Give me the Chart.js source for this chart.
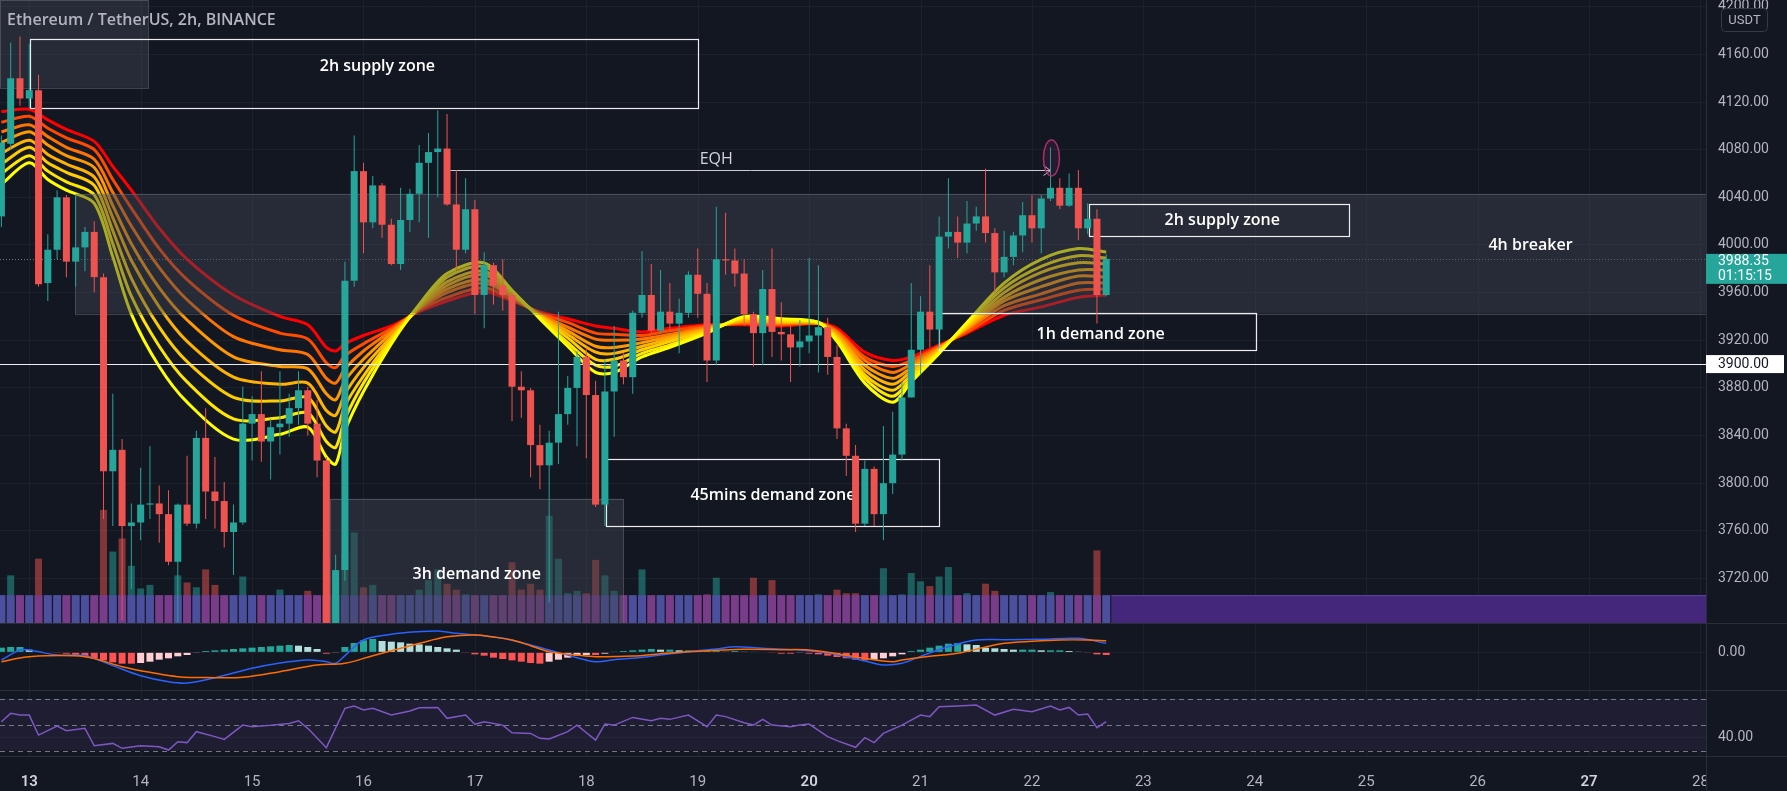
<!DOCTYPE html>
<html>
<head>
<meta charset="utf-8">
<title>ETHUSDT 2h</title>
<script src="https://cdn.jsdelivr.net/npm/chart.js"></script>
<style>
  body { margin: 0; background: #131722; overflow: hidden; }
  canvas { position: absolute; left: 0; display: block; }
  #mainChart { top: 0; }
  #macdChart { top: 623px; }
  #rsiChart { top: 690px; }
</style>
</head>
<body>
<canvas id="mainChart" width="1787" height="623"></canvas>
<canvas id="macdChart" width="1787" height="67"></canvas>
<canvas id="rsiChart" width="1787" height="101"></canvas>
<script>
// 2h candles, index 0 = 12th 18:00, index 3 = 13th 00:00
const candleOpen = [4024,4085,4140,4123,4130,3968,3996,4040,3986,3998, 4011,3973,3810,3828,3764,3767,3782,3783,3774,3734,
  3782,3766,3838,3793,3785,3759,3767,3850,3858,3835, 3847,3850,3863,3878,3850,3819,3678,3727,3970,4062,
  4019,4050,4017,3984,4021,4043,4069,4078,4081,4034, 3996,4030,3958,3983,3966,3958,3881,3878,3832,3815,
  3834,3858,3880,3906,3874,3782,3877,3903,3889,3943, 3958,3928,3944,3934,3943,3975,3959,3903,3988,3987,
  3976,3942,3926,3963,3927,3925,3914,3919,3924,3931, 3906,3846,3823,3766,3812,3774,3800,3824,3872,3912,
  3944,3929,4007,4011,4002,4018,4024,4010,3977,3990, 4008,4025,4014,4039,4048,4033,4048,4014,4022,3958];
const candleHigh = [4092,4170,4175,4169,4143,4009,4046,4042,4042,4015, 4020,3976,3875,3837,3783,3813,3831,3798,3794,3783,
  3823,3844,3863,3822,3801,3782,3881,3873,3894,3854, 3894,3875,3894,3881,3870,3822,3740,3986,4092,4069,
  4058,4052,4022,4048,4047,4084,4094,4113,4110,4063, 4056,4038,3994,3985,3988,3960,3894,3880,3849,3844,
  3944,3890,3911,3914,3886,3904,3932,3909,3945,3995, 3984,3979,3968,3955,3978,3997,3968,4032,4027,3997,
  3988,3944,3979,3997,3952,3932,3937,3989,3983,3939, 3916,3850,3832,3819,3814,3848,3860,3885,3968,3957,
  3983,4024,4056,4024,4037,4032,4064,4014,4012,4011, 4036,4042,4042,4082,4056,4060,4063,4035,4030,3992];
const candleLow = [4015,4080,4117,4115,3965,3953,3988,3973,3965,3978, 3960,3770,3764,3685,3711,3752,3770,3750,3731,3683,
  3764,3762,3770,3762,3746,3723,3765,3819,3818,3803, 3824,3839,3849,3840,3805,3650,3643,3718,3965,3993,
  4014,4006,3983,3979,4011,4019,4006,4040,4033,3979, 3993,3942,3930,3950,3945,3852,3855,3805,3795,3700,
  3816,3849,3831,3821,3780,3764,3839,3883,3875,3939, 3926,3926,3927,3909,3939,3939,3885,3899,3975,3965,
  3932,3898,3899,3906,3903,3885,3898,3909,3893,3891, 3837,3806,3759,3764,3764,3752,3791,3819,3872,3891,
  3914,3913,3997,3989,3993,4012,4002,3960,3973,3983, 3994,4002,3993,4037,4030,4032,4004,4009,3934,3957];
const candleClose = [4086,4140,4123,4130,3967,3996,4040,3986,3998,4011, 3973,3810,3828,3764,3767,3782,3783,3774,3734,3782,
  3766,3838,3793,3785,3759,3767,3850,3858,3835,3847, 3850,3863,3878,3850,3819,3678,3727,3970,4062,4019,
  4050,4017,3984,4021,4043,4069,4078,4081,4034,3996, 4030,3958,3983,3966,3958,3881,3878,3832,3815,3834,
  3858,3880,3906,3874,3782,3877,3903,3889,3943,3958, 3928,3944,3934,3943,3975,3959,3903,3988,3987,3976,
  3942,3926,3963,3927,3925,3914,3919,3924,3931,3906, 3846,3823,3766,3812,3774,3800,3824,3872,3912,3944,
  3929,4007,4011,4002,4018,4024,4010,3977,3990,4008, 4025,4014,4039,4048,4033,4048,4014,4022,3958,3988.35];
const volume = [20,40,20,18,54,18,16,22,20,14, 18,95,60,71,48,29,32,20,22,40, 34,30,45,32,20,22,39,18,22,16,
  28,16,18,27,20,54,44,58,76,30, 32,16,16,20,18,28,36,45,33,28, 24,20,18,20,20,51,28,33,28,90,
  54,25,27,25,53,40,27,20,20,45, 18,16,20,18,20,22,24,38,18,20, 22,38,20,36,18,20,18,22,24,20,
  28,25,25,20,18,46,22,24,42,35, 31,39,47,20,25,18,33,27,18,16, 20,18,22,26,18,16,20,18,61,9];

// EMA ribbon at these candle indexes (fast -> slow)
const ribbonK = [0,3,5,7,10,12,14,17,20,25,30,33,35,36,37,39,42,45,48,52,55,58,61,64,66,69,72,76,80,84,88,90,93,96,98,101,104,108,112,116,119];
const ema20 = [4051,4069,4055,4046,4035,3990,3942,3898,3868,3837,3841,3847,3822,3816,3844,3877,3917,3950,3976,3985,3962,3938,3915,3893,3893,3906,3914,3926,3940,3938,3935,3919,3884,3868,3885,3909,3935,3968,3988,3997,3994];
const ema25 = [4060,4075,4062,4053,4042,4001,3957,3915,3885,3854,3855,3859,3835,3830,3854,3884,3919,3949,3973,3982,3961,3939,3918,3899,3898,3909,3916,3927,3939,3937,3935,3921,3888,3873,3888,3910,3934,3964,3982,3991,3989];
const ema30 = [4068,4082,4069,4061,4050,4012,3972,3931,3902,3872,3869,3872,3848,3843,3865,3890,3921,3948,3969,3978,3959,3940,3922,3904,3904,3912,3919,3928,3938,3936,3935,3922,3891,3878,3891,3911,3932,3960,3977,3985,3984];
const ema35 = [4077,4088,4076,4068,4057,4023,3987,3948,3919,3889,3883,3884,3861,3857,3875,3897,3923,3947,3966,3975,3958,3941,3925,3910,3909,3915,3921,3929,3937,3935,3935,3924,3895,3883,3894,3912,3931,3956,3971,3979,3979];
const ema40 = [4086,4095,4084,4075,4065,4033,4001,3964,3937,3906,3898,3896,3875,3870,3886,3904,3926,3947,3963,3971,3957,3941,3928,3915,3914,3918,3923,3930,3936,3935,3934,3925,3899,3888,3897,3913,3930,3953,3965,3974,3973];
const ema45 = [4095,4101,4091,4082,4072,4044,4016,3981,3954,3923,3912,3908,3888,3884,3896,3911,3928,3946,3960,3968,3956,3942,3931,3921,3920,3921,3925,3931,3935,3934,3934,3927,3903,3893,3900,3914,3929,3949,3959,3968,3968];
const ema50 = [4103,4108,4098,4090,4080,4055,4031,3997,3971,3941,3926,3921,3901,3897,3907,3917,3930,3945,3956,3964,3954,3943,3935,3926,3925,3924,3928,3932,3934,3933,3934,3928,3906,3898,3903,3915,3927,3945,3954,3962,3963];
const ema55 = [4112,4114,4105,4097,4087,4066,4046,4014,3988,3958,3940,3933,3914,3911,3917,3924,3932,3944,3953,3961,3953,3944,3938,3932,3930,3927,3930,3933,3933,3932,3934,3930,3910,3903,3906,3916,3926,3941,3948,3956,3958];

// MACD pane: [candle index, value]
const macdLine = [[0,-11.5],[2,3.5],[3,3.5],[6,-4],[9,-5],[12,-20],[15,-35],[18,-44],[20,-46],[23,-38],[27,-24],[30,-16],[33,-11.5],[35,-14],[36,-16.5],[37,-5],[39,18.5],[42,27],[45,31],[47,32],[49,28.5],[52,25],[54,21],[57,11],[59,3.5],[62,-8],[64,-14],[66,-11],[68,-9],[71,-4],[74,1],[77,5],[79,8.5],[82,6],[86,3.5],[89,-1],[91,-6.5],[93,-13],[95,-19],[97,-16.5],[99,-6],[102,8.5],[105,18.5],[108,19],[112,19.5],[116,21],[119,13.5]];
const signalLine = [[0,-14],[3,-6.5],[9,-6.5],[13,-21.5],[16,-30],[19,-36.5],[23,-38],[26,-37.5],[30,-29],[34,-19],[37,-16.5],[40,-5],[43,6],[46,17],[48,23.5],[51,26],[53,23],[55,18.5],[57,10],[59,1],[62,-4],[64,-6.5],[68,-5.5],[71,-2],[74,1],[77,3],[80,4.5],[84,4],[87,3.5],[90,-2],[93,-9],[96,-14],[97,-11.5],[100,-6],[103,-1.5],[106,8],[108,13.5],[111,16.5],[114,18.5],[117,18.5],[119,17.5]];
const macdHist = [7,8,8,4,1,0,-1,-2,-4,-6, -9,-12,-15,-17,-17,-16,-14,-11,-9,-6, -4,-1,2,3,4,5,6,7,8,9,
  10,11,10,8,5,-2,-1,8,14,18, 20,17,16,15,13,12,10,8,6,4, -1,-3,-5,-8,-10,-12,-14,-16,-17,-14,
  -11,-8,-5,-4,-4,-2,1,2,3,4, 5,4,4,3,3,2,2,2,1,2, 1,1,0,-1,-2,-2,-1,-2,-3,-5,
  -7,-9,-11,-12,-11,-9,-6,-3,2,4, 7,10,13,14,12,11,7,6,5,4, 4,4,3,3,3,2,1,-1,-3,-4];

// RSI pane: [candle index, value]
const rsiLine = [[0,52.3],[1,58.7],[2,57.4],[3,57.4],[4,42],[6,49],[7,45.4],[9,47.2],[10,33.8],[12,35.6],[13,31.8],[15,33.8],[17,33],[18,30.5],[19,36.9],[20,36.2],[21,44.6],[23,40.8],[24,38.7],[26,49.7],[27,48.5],[29,49.5],[31,51],[32,53],[33,47.2],[35,32.3],[37,62.6],[38,64.4],[39,61.3],[40,62.6],[42,57.4],[44,60.5],[45,63],[47,63.3],[48,54.9],[50,57.4],[51,50.3],[52,52.3],[54,49.7],[55,43.8],[57,43.3],[58,39.5],[59,39],[61,44.6],[62,49.7],[64,38.2],[65,50.5],[66,49.7],[68,55.6],[70,53],[71,54.9],[72,54.1],[74,57.4],[76,48.5],[77,57.4],[78,56.2],[80,51.5],[81,49.7],[82,54.1],[83,49.7],[85,48.5],[86,49.7],[87,50.5],[89,40.8],[90,37.7],[92,32.6],[93,40],[94,36.2],[95,43.3],[97,49.7],[99,57.4],[100,56.2],[101,63.8],[103,64.4],[105,65.1],[107,57.4],[109,61.8],[111,60],[113,64.4],[114,61.3],[115,63.3],[116,57.4],[117,58.2],[118,47.7],[119,52.3]];

const dayLabels = ['13','14','15','16','17','18','19','20','21','22','23','24','25','26','27','28'];
const boldDays = ['13','20','27'];
const priceTicks = [3720,3760,3800,3840,3880,3920,3960,4000,4040,4080,4120,4160,4200];
const lastPrice = 3988.35;
const countdown = '01:15:15';
const keyLevel = 3900;

// ---------- style ----------
const bg = '#131722', gridCol = '#1d212c', axisCol = '#2a2e39', textCol = '#b2b5be';
const upCol = '#26a69a', downCol = '#ef5350';
const ribbonColors = ['#ffff00','#ffe600','#ffcc00','#ffb300','#ff9900','#ff7400','#ff4a00','#ff0000'];
const X_MIN = -0.15, X_MAX = 183.6;
const BAND_LOW = 3683, BAND_HIGH = 3706;
const zoneFont = '600 16px "Open Sans", sans-serif';

Chart.defaults.font.family = 'Roboto, "Liberation Sans", sans-serif';
Chart.defaults.font.size = 14;
Chart.defaults.color = textCol;
Chart.defaults.animation = false;
Chart.defaults.events = [];
Chart.defaults.plugins.legend.display = false;
Chart.defaults.plugins.tooltip.enabled = false;

const isUp = candleClose.map((c, i) => c >= candleOpen[i]);
const X = (c, k) => c.scales.x.getPixelForValue(k);
const Y = (c, p) => c.scales.y.getPixelForValue(p);

function dayGrid(chart) {
  const { ctx, chartArea: a } = chart;
  ctx.save();
  ctx.strokeStyle = gridCol;
  ctx.lineWidth = 1;
  dayLabels.forEach((d, i) => {
    const px = Math.round(X(chart, 3 + 12 * i)) + 0.5;
    ctx.beginPath(); ctx.moveTo(px, a.top); ctx.lineTo(px, a.bottom); ctx.stroke();
  });
  ctx.restore();
}

function yAxis(extra) {
  return Object.assign({
    position: 'right',
    grid: { color: gridCol, drawTicks: false },
    border: { color: axisCol },
    ticks: { padding: 12, callback: v => v.toFixed(2) },
    afterFit(s) { s.width = 81; s.paddingTop = 0; s.paddingBottom = 0; }
  }, extra);
}

const xHidden = { type: 'linear', min: X_MIN, max: X_MAX, offset: false, display: false };

function topSeparator(chart) {
  const ctx = chart.ctx;
  ctx.save();
  ctx.strokeStyle = axisCol; ctx.lineWidth = 1;
  ctx.beginPath(); ctx.moveTo(0, 0.5); ctx.lineTo(chart.width, 0.5); ctx.stroke();
  ctx.restore();
}

// ---------- annotations (data coordinates) ----------
const shadedZones = [
  { k0: -1, k1: 15.8, top: 4220, bottom: 4132 },
  { k0: 7.96, k1: 999, top: 4043, bottom: 3942.5, text: '4h breaker', tk: 164.7, tp: 4000 },
  { k0: 35.4, k1: 67, top: 3787, bottom: 3600, text: '3h demand zone', tk: 51.2, tp: 3723.5 }
];
const outlinedZones = [
  { k0: 3.05, k1: 75, top: 4173, bottom: 4115, text: '2h supply zone', tk: 40.5, tp: 4150 },
  { k0: 117.1, k1: 145.1, top: 4034.4, bottom: 4007.6, text: '2h supply zone', tk: 131.5, tp: 4021 },
  { k0: 101, k1: 135.1, top: 3943, bottom: 3912, text: '1h demand zone', tk: 118.4, tp: 3925 },
  { k0: 65.1, k1: 101, top: 3820, bottom: 3763.7, text: '45mins demand zone', tk: 83.1, tp: 3790 }
];
const eqh = { k0: 48.35, k1: 113, price: 4063, tk: 77, tp: 4072 };
const eqhMark = { k: 113.1, price: 4073 };

const mainDecor = {
  id: 'mainDecor',
  beforeDatasetsDraw(chart) {
    const { ctx, chartArea: a } = chart;
    dayGrid(chart);
    const y = Math.round(Y(chart, lastPrice)) + 0.5;
    ctx.save();
    ctx.strokeStyle = 'rgba(140,143,154,0.8)';
    ctx.setLineDash([1, 2]);
    ctx.beginPath(); ctx.moveTo(a.left, y); ctx.lineTo(a.right, y); ctx.stroke();
    ctx.restore();
  },
  beforeDatasetDraw(chart, args) {
    if (chart.data.datasets[args.index].label !== 'wick') return;
    const { ctx, chartArea: a } = chart;
    ctx.save();
    ctx.beginPath(); ctx.rect(a.left, a.top, a.right - a.left, a.bottom - a.top); ctx.clip();
    // band continues past the last bar
    const bx = X(chart, 119.55);
    ctx.fillStyle = '#44277a';
    ctx.fillRect(bx, Y(chart, BAND_HIGH), a.right - bx, Y(chart, BAND_LOW) - Y(chart, BAND_HIGH) + 2);
    ctx.fillStyle = 'rgba(120,90,200,0.6)';
    ctx.fillRect(bx, Y(chart, BAND_HIGH), a.right - bx, 1);
    // shaded zones
    shadedZones.forEach(z => {
      const x0 = Math.max(a.left, X(chart, z.k0)), x1 = Math.min(a.right, X(chart, z.k1));
      const y0 = Math.max(a.top, Y(chart, z.top)), y1 = Math.min(a.bottom, Y(chart, z.bottom));
      ctx.fillStyle = 'rgba(64,68,82,0.45)';
      ctx.fillRect(x0, y0, x1 - x0, y1 - y0);
      ctx.strokeStyle = 'rgba(120,123,134,0.45)';
      ctx.lineWidth = 1;
      ctx.strokeRect(Math.round(x0) + 0.5, Math.round(y0) + 0.5, Math.round(x1 - x0), Math.round(y1 - y0));
    });
    // outlined zones
    ctx.strokeStyle = 'rgba(255,255,255,0.92)';
    ctx.lineWidth = 1.2;
    outlinedZones.forEach(z => {
      const x0 = Math.round(X(chart, z.k0)) + 0.5, x1 = Math.round(X(chart, z.k1)) + 0.5;
      const y0 = Math.round(Y(chart, z.top)) + 0.5, y1 = Math.round(Y(chart, z.bottom)) + 0.5;
      ctx.strokeRect(x0, y0, x1 - x0, y1 - y0);
    });
    // key level
    const ly = Math.round(Y(chart, keyLevel)) + 0.5;
    ctx.beginPath(); ctx.moveTo(a.left, ly); ctx.lineTo(a.right, ly); ctx.stroke();
    // EQH
    const ey = Math.round(Y(chart, eqh.price)) + 0.5, ex0 = X(chart, eqh.k0), ex1 = X(chart, eqh.k1);
    ctx.strokeStyle = '#c9ccd4';
    ctx.lineWidth = 1;
    ctx.beginPath(); ctx.moveTo(ex0, ey); ctx.lineTo(ex1, ey); ctx.stroke();
    ctx.beginPath(); ctx.moveTo(ex1 - 7, ey - 5); ctx.lineTo(ex1, ey); ctx.lineTo(ex1 - 7, ey + 5); ctx.stroke();
    // texts
    ctx.fillStyle = '#ffffff';
    ctx.font = zoneFont;
    ctx.textAlign = 'center';
    ctx.textBaseline = 'middle';
    shadedZones.concat(outlinedZones).forEach(z => {
      if (z.text) ctx.fillText(z.text, X(chart, z.tk), Y(chart, z.tp));
    });
    ctx.fillStyle = '#d1d4dc';
    ctx.font = '400 16px "Open Sans", sans-serif';
    ctx.fillText('EQH', X(chart, eqh.tk), Y(chart, eqh.tp));
    ctx.restore();
  },
  afterDatasetsDraw(chart) {
    const ctx = chart.ctx;
    ctx.save();
    // circled wick
    ctx.beginPath();
    ctx.ellipse(X(chart, eqhMark.k), Y(chart, eqhMark.price), 8, 18, 0, 0, Math.PI * 2);
    ctx.fillStyle = 'rgba(156,39,120,0.15)';
    ctx.fill();
    ctx.strokeStyle = '#a8306f';
    ctx.lineWidth = 1.5;
    ctx.stroke();
    // legend title
    ctx.fillStyle = textCol;
    ctx.font = '600 16px "Open Sans", sans-serif';
    ctx.textAlign = 'left';
    ctx.textBaseline = 'middle';
    ctx.fillText('Ethereum / TetherUS, 2h, BINANCE', 7, 20);
    ctx.restore();
  },
  afterDraw(chart) {
    const { ctx, chartArea: a } = chart;
    ctx.save();
    ctx.font = '14px Roboto, "Liberation Sans", sans-serif';
    ctx.textAlign = 'left';
    ctx.textBaseline = 'middle';
    // current price label
    const py = Y(chart, lastPrice);
    ctx.fillStyle = upCol;
    ctx.fillRect(a.right, py - 5, 81, 30);
    ctx.fillStyle = '#ffffff';
    ctx.fillText(lastPrice.toFixed(2), a.right + 12, py + 3);
    ctx.fillText(countdown, a.right + 12, py + 18);
    // key level label
    const ky = Y(chart, keyLevel);
    ctx.fillStyle = '#ffffff';
    ctx.fillRect(a.right, ky - 9, 78, 18);
    ctx.fillStyle = bg;
    ctx.fillText(keyLevel.toFixed(2), a.right + 12, ky);
    // currency badge
    ctx.fillStyle = bg;
    ctx.strokeStyle = '#363a45';
    ctx.lineWidth = 1;
    ctx.beginPath();
    ctx.roundRect(a.right + 15.5, 8.5, 46, 23, 4);
    ctx.fill(); ctx.stroke();
    ctx.fillStyle = textCol;
    ctx.font = '13px Roboto, "Liberation Sans", sans-serif';
    ctx.textAlign = 'center';
    ctx.fillText('USDT', a.right + 38.5, 20.5);
    ctx.restore();
  }
};

// ---------- main pane ----------
const ribbonSets = [ema20, ema25, ema30, ema35, ema40, ema45, ema50, ema55].map((arr, j) => ({
  type: 'line',
  data: ribbonK.map((k, i) => ({ x: k, y: arr[i] })),
  borderColor: ribbonColors[j],
  borderWidth: 3,
  pointRadius: 0,
  tension: 0.3,
  borderJoinStyle: 'round',
  order: 11 + j,
  clip: 0
}));

new Chart(document.getElementById('mainChart'), {
  type: 'bar',
  data: {
    datasets: [
      {
        label: 'volume', yAxisID: 'yv', order: 30, grouped: false, barThickness: 7, inflateAmount: 0,
        data: volume.map((v, i) => ({ x: i, y: v })),
        backgroundColor: isUp.map(u => u ? 'rgba(38,166,154,0.5)' : 'rgba(239,83,80,0.5)')
      },
      {
        label: 'band', order: 29, grouped: false, barThickness: 8, inflateAmount: 0, clip: 0,
        data: candleOpen.map((o, i) => ({ x: i, y: [BAND_LOW - 10, BAND_HIGH] })),
        backgroundColor: isUp.map(u => u ? '#4b4f9e' : '#793c8a')
      },
      ...ribbonSets,
      {
        label: 'wick', order: 1, grouped: false, barThickness: 1, inflateAmount: 0, clip: 0,
        data: candleHigh.map((h, i) => ({ x: i, y: [candleLow[i], h] })),
        backgroundColor: isUp.map(u => u ? upCol : downCol)
      },
      {
        label: 'body', order: 0, grouped: false, barThickness: 7, inflateAmount: 0, minBarLength: 1, clip: 0,
        data: candleOpen.map((o, i) => ({ x: i, y: [o, candleClose[i]] })),
        backgroundColor: isUp.map(u => u ? upCol : downCol)
      }
    ]
  },
  options: {
    responsive: false,
    layout: { padding: 0 },
    scales: {
      x: xHidden,
      y: yAxis({
        min: 3682.6, max: 4205.7,
        afterBuildTicks(s) { s.ticks = priceTicks.map(v => ({ value: v })); }
      }),
      yv: { display: false, min: 0, max: 523.1 }
    }
  },
  plugins: [mainDecor]
});

// ---------- MACD pane ----------
const histColors = macdHist.map((v, i) => {
  const prev = i ? macdHist[i - 1] : 0;
  if (v >= 0) return v >= prev ? '#26a69a' : '#b2dfdb';
  return v <= prev ? '#ff5252' : '#ffcdd2';
});

new Chart(document.getElementById('macdChart'), {
  type: 'bar',
  data: {
    datasets: [
      {
        order: 2, grouped: false, barThickness: 7, inflateAmount: 0,
        data: macdHist.map((v, i) => ({ x: i, y: v })),
        backgroundColor: histColors
      },
      {
        type: 'line', order: 1, borderColor: '#2962ff', borderWidth: 1.5, pointRadius: 0, tension: 0.35,
        data: macdLine.map(([k, v]) => ({ x: k, y: v }))
      },
      {
        type: 'line', order: 0, borderColor: '#ff6d00', borderWidth: 1.5, pointRadius: 0, tension: 0.35,
        data: signalLine.map(([k, v]) => ({ x: k, y: v }))
      }
    ]
  },
  options: {
    responsive: false,
    layout: { padding: 0 },
    scales: {
      x: xHidden,
      y: yAxis({ min: -56.5, max: 44, afterBuildTicks(s) { s.ticks = [{ value: 0 }]; } })
    }
  },
  plugins: [{
    id: 'macdDecor',
    beforeDatasetsDraw(chart) { dayGrid(chart); },
    afterDraw(chart) { topSeparator(chart); }
  }]
});

// ---------- RSI pane + time axis ----------
new Chart(document.getElementById('rsiChart'), {
  type: 'line',
  data: {
    datasets: [{
      borderColor: '#7e57c2', borderWidth: 1.5, pointRadius: 0, tension: 0,
      data: rsiLine.map(([k, v]) => ({ x: k, y: v }))
    }]
  },
  options: {
    responsive: false,
    layout: { padding: 0 },
    scales: {
      x: {
        type: 'linear', min: X_MIN, max: X_MAX, offset: false,
        grid: { display: false },
        border: { display: true, color: axisCol },
        afterBuildTicks(s) { s.ticks = dayLabels.map((d, i) => ({ value: 3 + 12 * i })); },
        afterFit(s) { s.height = 35; s.paddingLeft = 0; s.paddingRight = 0; },
        ticks: {
          autoSkip: false, maxRotation: 0, minRotation: 0, padding: 9,
          callback: (v, i) => dayLabels[i],
          font: c => ({ size: 15, weight: boldDays.includes(dayLabels[c.index]) ? '600' : '400' }),
          color: c => boldDays.includes(dayLabels[c.index]) ? '#d1d4dc' : textCol
        }
      },
      y: yAxis({ min: 25.9, max: 76.7, afterBuildTicks(s) { s.ticks = [{ value: 40 }]; } })
    }
  },
  plugins: [{
    id: 'rsiDecor',
    beforeDatasetsDraw(chart) {
      const { ctx, chartArea: a } = chart;
      ctx.save();
      ctx.fillStyle = 'rgba(126,87,194,0.1)';
      ctx.fillRect(a.left, Y(chart, 70), a.right - a.left, Y(chart, 30) - Y(chart, 70));
      ctx.restore();
      dayGrid(chart);
      ctx.save();
      ctx.strokeStyle = 'rgba(150,153,164,0.75)';
      ctx.lineWidth = 1;
      ctx.setLineDash([5, 4]);
      [70, 50, 30].forEach(v => {
        const y = Math.round(Y(chart, v)) + 0.5;
        ctx.beginPath(); ctx.moveTo(a.left, y); ctx.lineTo(a.right, y); ctx.stroke();
      });
      ctx.restore();
    },
    afterDraw(chart) {
      const { ctx, chartArea: a } = chart;
      topSeparator(chart);
      ctx.save();
      ctx.fillStyle = bg;
      ctx.fillRect(a.right + 1, a.bottom + 1, chart.width - a.right, chart.height - a.bottom);
      ctx.strokeStyle = axisCol;
      ctx.beginPath();
      ctx.moveTo(a.left, a.bottom + 0.5); ctx.lineTo(chart.width, a.bottom + 0.5);
      ctx.moveTo(Math.round(a.right) + 0.5, a.bottom); ctx.lineTo(Math.round(a.right) + 0.5, chart.height);
      ctx.stroke();
      ctx.restore();
    }
  }]
});
</script>
</body>
</html>
